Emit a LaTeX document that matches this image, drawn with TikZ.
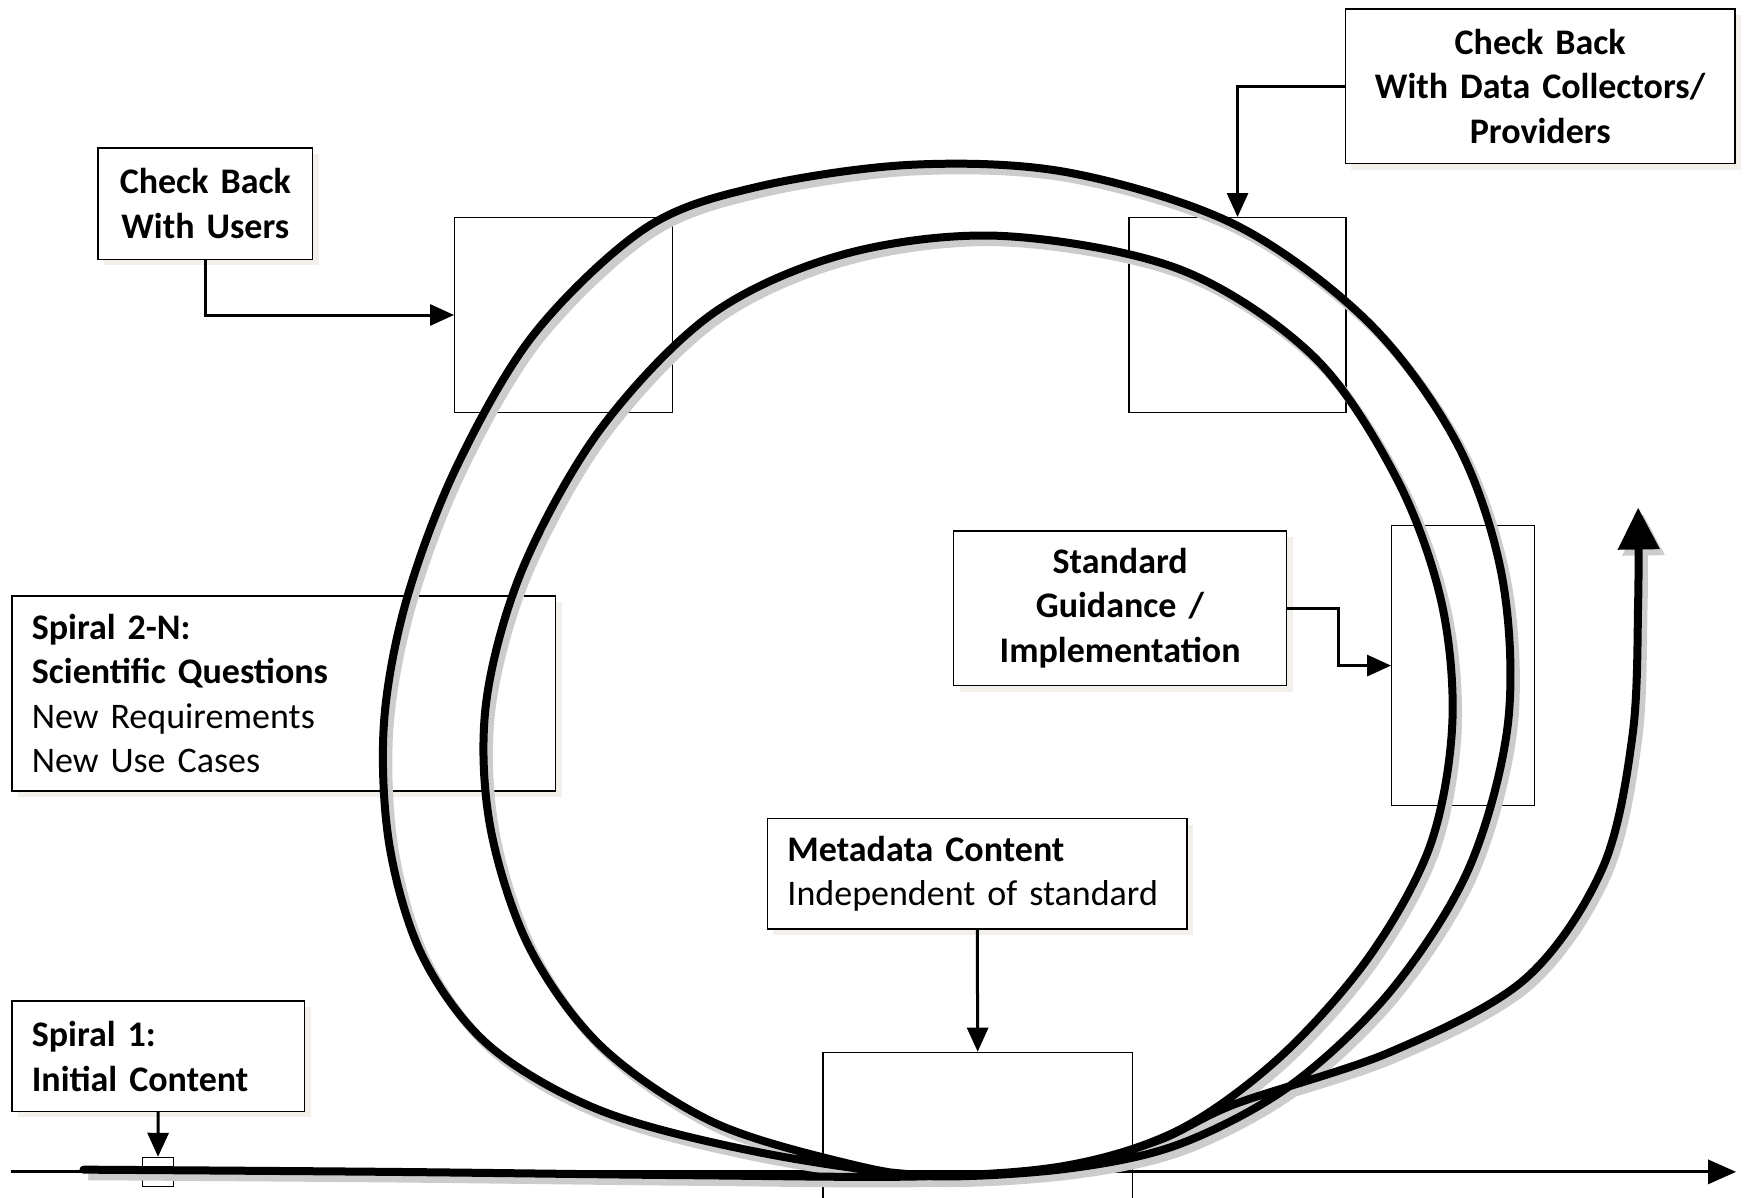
\documentclass[tikz,border=0pt]{standalone}
\usepackage{fontspec}
\setmainfont{Carlito}
\usetikzlibrary{arrows.meta,shadows}
\definecolor{boxshade}{RGB}{243,240,235}
\tikzset{
  txtbox/.style={draw,line width=.7pt,fill=white,inner sep=0pt,font=\fontsize{18}{22.3}\selectfont,
    drop shadow={shadow xshift=3pt,shadow yshift=-3pt,fill=boxshade,opacity=1}},
  slot/.style={draw,line width=.6pt,inner sep=0pt,anchor=north west},
  feed/.style={line width=1.5pt,-{Triangle[length=12pt,width=10.5pt]}},
  coil/.style={line width=4pt,line cap=round,
    preaction={draw=black!20,line width=4.6pt,transform canvas={shift={(2.4pt,-3pt)}}}}
}
\begin{document}
\begin{tikzpicture}[x=.5565pt,y=-.5565pt]
\path[use as bounding box] (0,0) rectangle (1568,1076);
% empty boxes on the spiral
\node[slot,minimum width=109.1pt,minimum height=97.4pt] (slotusers) at (408,195) {};
\node[slot,minimum width=108.5pt,minimum height=97.4pt] (slotproviders) at (1014,195) {};
\node[slot,minimum width=71.2pt,minimum height=139.7pt] (slotguide) at (1250,472) {};
\node[slot,minimum width=154.7pt,minimum height=111.3pt] (slotmeta) at (739,945) {};
\node[slot,minimum width=15.6pt,minimum height=14.5pt,anchor=center] (tick) at (142,1053) {};
% text boxes
\node[txtbox,text width=194.8pt,minimum height=77.4pt,align=center] (cbdc) at (1384,77.5)
  {\textbf{Check Back}\\\textbf{With Data Collectors/}\\\textbf{Providers}};
\node[txtbox,text width=107.4pt,minimum height=55.7pt,align=center] (cbu) at (184.5,183)
  {\textbf{Check Back}\\\textbf{With Users}};
\node[txtbox,text width=166.4pt,minimum height=77.4pt,align=center] (stdguide) at (1006.5,546.5)
  {\textbf{Standard}\\\textbf{Guidance /}\\\textbf{Implementation}};
\node[txtbox,anchor=north west,inner xsep=10pt,text width=252pt,minimum height=97.4pt,align=left] (spiraln) at (10,535)
  {\textbf{Spiral 2-N:}\\\textbf{Scientific Questions}\\New Requirements\\New Use Cases};
\node[txtbox,anchor=north west,inner xsep=10pt,text width=189.8pt,minimum height=55.1pt,align=left] (meta) at (689,735)
  {\textbf{Metadata Content}\\Independent of standard};
\node[txtbox,anchor=north west,inner xsep=10pt,text width=126.4pt,minimum height=55.1pt,align=left] (spiral1) at (10,899)
  {\textbf{Spiral 1:}\\\textbf{Initial Content}};
% time axis
\coordinate (axisstart) at (10,1053);
\coordinate (axisend) at (1560,1053);
\draw[line width=1.6pt,-{Triangle[length=14pt,width=12pt]}] (axisstart) -- (axisend);
% the spiral
\draw[coil,-{Triangle[length=21pt,width=20pt]}] plot[smooth,tension=.55] coordinates {
  (75,1051) (350,1053) (620,1056) (830,1057)
  (960,1047) (1060,1015) (1150,950) (1230,860) (1285,760) (1305,650) (1295,540) (1255,430)
  (1180,320) (1060,242) (900,212) (760,228) (640,282) (540,385) (470,510) (437,630)
  (440,740) (475,850) (540,940) (640,1008) (760,1045) (840,1057)
  (960,1050) (1060,1028) (1160,975) (1250,890) (1320,780) (1355,650) (1350,520) (1310,400)
  (1230,290) (1110,202) (960,155) (820,148) (680,168) (580,205) (480,300) (410,420)
  (365,540) (345,650) (350,760) (380,860) (440,940) (540,998) (680,1035) (830,1056)
  (950,1050) (1040,1025) (1110,992) (1250,945) (1370,880) (1440,780) (1467,660) (1472,540) (1472,456)};
% feeds into the spiral
\coordinate (bend) at (1203,546.5);
\draw[feed] (cbu.south) |- (slotusers.west);
\draw[feed] (cbdc.west) -| (slotproviders.north);
\draw[feed] (stdguide.east) -- (bend) |- (slotguide.west);
\draw[feed] (meta.south) -- (slotmeta.north);
\draw[feed] (spiral1.south) -- (tick.north);
\end{tikzpicture}
\end{document}
